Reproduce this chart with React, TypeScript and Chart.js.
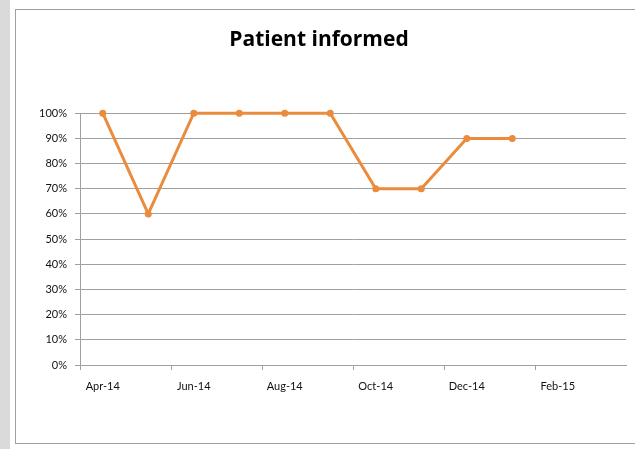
import React, { useEffect, useRef } from 'react';
import { Chart, registerables } from 'chart.js';

Chart.register(...registerables);

const monthLabels = ['Apr-14', 'May-14', 'Jun-14', 'Jul-14', 'Aug-14', 'Sep-14', 'Oct-14', 'Nov-14', 'Dec-14', 'Jan-15', 'Feb-15', 'Mar-15'];
const informedShare = [1, 0.6, 1, 1, 1, 1, 0.7, 0.7, 0.9, 0.9, null, null];
const chartTitle = 'Patient informed';

const FONT = 'Lato, "Open Sans", sans-serif';
const TITLE_FONT = '"Open Sans", Lato, sans-serif';
const GRID = '#a0a0a0';
const ORANGE = '#EB8B3C';

export default function App() {
  const canvasRef = useRef<HTMLCanvasElement | null>(null);

  useEffect(() => {
    const canvas = canvasRef.current;
    if (!canvas) return;
    const chart = new Chart(canvas, {
      type: 'line',
      data: {
        labels: monthLabels,
        datasets: [
          {
            data: informedShare,
            borderColor: ORANGE,
            backgroundColor: ORANGE,
            borderWidth: 3,
            pointRadius: 3.5,
            pointBorderWidth: 0,
            pointBackgroundColor: ORANGE,
            tension: 0,
            spanGaps: false,
            clip: 10,
          },
        ],
      },
      options: {
        animation: false,
        responsive: false,
        maintainAspectRatio: false,
        devicePixelRatio: 1,
        layout: { padding: { left: 4, right: 0, top: 0, bottom: 0 } },
        plugins: {
          legend: { display: false },
          tooltip: { enabled: false },
          title: {
            display: true,
            text: chartTitle,
            color: '#000',
            font: { family: TITLE_FONT, size: 21, weight: 'bold' },
            padding: { top: 27, bottom: 61 },
          },
        },
        scales: {
          x: {
            type: 'category',
            offset: true,
            afterFit: (scale: any) => {
              scale.height = 84;
            },
            grid: {
              offset: true,
              drawOnChartArea: false,
              drawTicks: true,
              tickLength: 5,
              color: (ctx: any) => (ctx.index % 2 === 0 ? GRID : 'rgba(0,0,0,0)'),
            },
            border: { display: true, color: GRID, width: 1 },
            ticks: {
              autoSkip: false,
              maxRotation: 0,
              minRotation: 0,
              padding: 10,
              color: '#111',
              font: { family: FONT, size: 11 },
              callback: (_v: any, i: number) => (i % 2 === 0 ? monthLabels[i] : ''),
            },
          },
          y: {
            min: 0,
            max: 1,
            afterFit: (scale: any) => {
              scale.width = 72;
            },
            grid: {
              color: GRID,
              lineWidth: 1,
              tickLength: 5,
              drawTicks: true,
            },
            border: { display: true, color: GRID, width: 1 },
            ticks: {
              stepSize: 0.1,
              padding: 8,
              color: '#111',
              font: { family: FONT, size: 11 },
              callback: (v: any) => Math.round(Number(v) * 100) + '%',
            },
          },
        },
      },
    });
    return () => chart.destroy();
  }, []);

  return (
    <div style={{ position: 'fixed', left: 0, top: 0, width: 635, height: 449, background: '#fff', overflow: 'hidden' }}>
      <div style={{ position: 'absolute', left: 0, top: 0, width: 10, height: 449, background: '#dadada' }} />
      <div
        style={{
          position: 'absolute',
          left: 15,
          top: 9,
          width: 640,
          height: 435,
          boxSizing: 'border-box',
          border: '1px solid #a0a0a0',
        }}
      />
      <canvas ref={canvasRef} width={626} height={449} style={{ position: 'absolute', left: 4, top: 0, width: 626, height: 449 }} />
    </div>
  );
}
